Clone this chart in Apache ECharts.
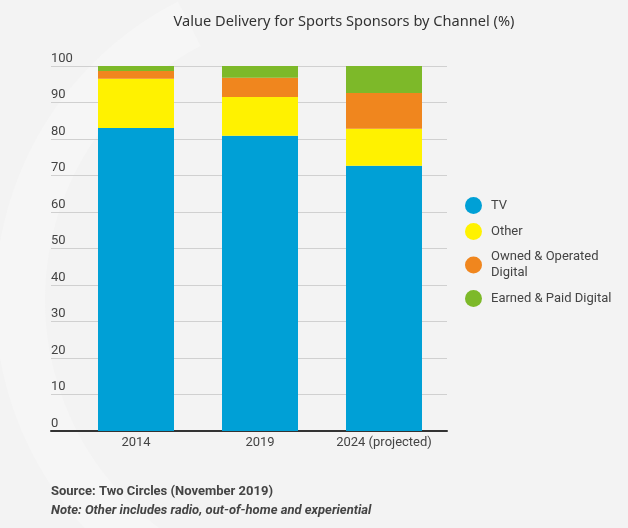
<!DOCTYPE html>
<html>
<head>
<meta charset="utf-8">
<script src="https://cdn.jsdelivr.net/npm/echarts@6/dist/echarts.min.js"></script>
<style>
html,body{margin:0;padding:0;background:#f3f3f3;}
#c{width:628px;height:528px;}
</style>
</head>
<body>
<div id="c"></div>
<script>
const categories = ['2014', '2019', '2024 (projected)'];
const seriesNames = ['TV', 'Other', 'Owned & Operated Digital', 'Earned & Paid Digital'];
const tv = [83.0, 80.9, 72.7];
const other = [13.5, 10.6, 10.1];
const ownedOperated = [2.1, 5.3, 9.8];
const earnedPaid = [1.4, 3.2, 7.4];
const yTicks = [0, 10, 20, 30, 40, 50, 60, 70, 80, 90, 100];
const colors = ['#00a0d6', '#fff200', '#f0861e', '#7db929'];

const chart = echarts.init(document.getElementById('c'), null, {renderer: 'canvas'});
const values = [tv, other, ownedOperated, earnedPaid];

const option = {
  backgroundColor: '#f3f3f3',
  animation: false,
  graphic: [
    {type: 'sector', z: -10, silent: true,
     shape: {cx: 330, cy: 300, r: 335, r0: 285, startAngle: Math.PI * 0.62, endAngle: Math.PI * 1.35, clockwise: true},
     style: {fill: '#f6f6f6'}},
    {type: 'text', left: 51, top: 485, style: {text: 'Source: Two Circles (November 2019)', fontFamily: 'Roboto', fontSize: 13, fontWeight: 'bold', fill: '#444'}},
    {type: 'text', left: 51, top: 504, style: {text: 'Note: Other includes radio, out-of-home and experiential', fontFamily: 'Roboto', fontSize: 13, fontWeight: 'bold', fontStyle: 'italic', fill: '#444'}}
  ],
  title: {
    text: 'Value Delivery for Sports Sponsors by Channel (%)',
    left: 339, textAlign: 'center', top: 9,
    textStyle: {fontFamily: 'Noto Sans', fontSize: 14.6, fontWeight: 'normal', color: '#333'}
  },
  legend: {
    orient: 'vertical', left: 460, top: 192,
    icon: 'circle', itemWidth: 17, itemHeight: 17, itemGap: 9,
    data: seriesNames,
    formatter: n => n === 'Owned & Operated Digital' ? 'Owned & Operated\nDigital' : n,
    textStyle: {fontFamily: 'Roboto', fontSize: 13, color: '#444', lineHeight: 16, padding: [0, 0, 0, 4]}
  },
  grid: [
    {left: 74, top: 66, width: 372, height: 365},
    {left: 51, top: 66, width: 396, height: 365}
  ],
  xAxis: [
    {type: 'category', gridIndex: 0, data: categories,
     axisLine: {show: false}, axisTick: {show: false},
     axisLabel: {interval: 0, margin: 5, fontFamily: 'Roboto', fontSize: 13, color: '#444'}},
    {type: 'category', gridIndex: 1, data: [''],
     axisLine: {show: true, lineStyle: {color: '#333', width: 2}}, axisTick: {show: false}, axisLabel: {show: false}}
  ],
  yAxis: [
    {type: 'value', gridIndex: 0, min: 0, max: 100, interval: 10, show: false, splitLine: {show: false}},
    {type: 'value', gridIndex: 1, min: yTicks[0], max: yTicks[yTicks.length - 1], interval: 10,
     axisLine: {show: false}, axisTick: {show: false},
     axisLabel: {inside: true, margin: 0, verticalAlign: 'bottom', align: 'left', padding: [0, 0, 1, 0],
       fontFamily: 'Roboto', fontSize: 13, color: '#444'},
     splitLine: {show: true, lineStyle: {color: '#d0d0d0', width: 1}}}
  ],
  series: seriesNames.map((name, i) => ({
    name, type: 'bar', stack: 'total', xAxisIndex: 0, yAxisIndex: 0,
    barWidth: 76, data: values[i], itemStyle: {color: colors[i]}, z: 5
  }))
};
chart.setOption(option);
</script>
</body>
</html>
